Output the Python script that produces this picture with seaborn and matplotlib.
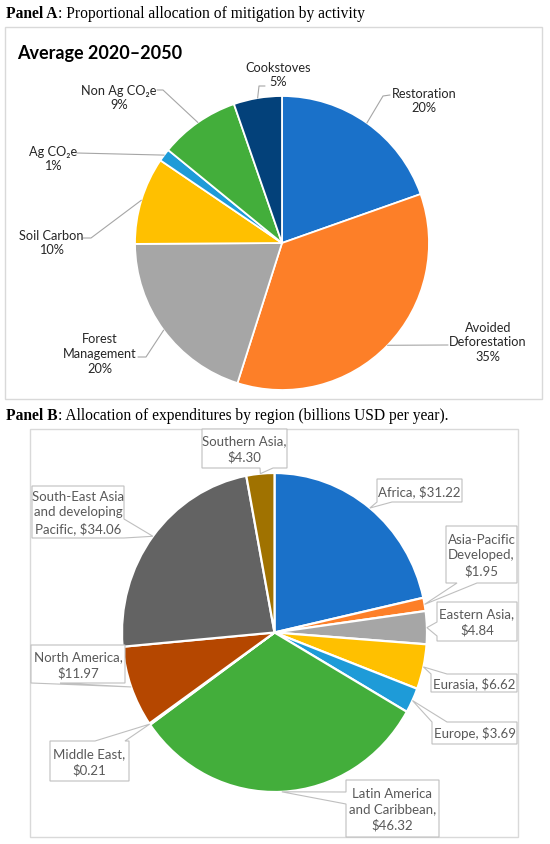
import matplotlib
matplotlib.use("Agg")
import numpy as np
import matplotlib.pyplot as plt
import seaborn as sns
from matplotlib.patches import Rectangle, Polygon

# ---------------- data ----------------
activities = ["Restoration", "Avoided\nDeforestation", "Forest\nManagement", "Soil Carbon",
              "Ag CO\u2082e", "Non Ag CO\u2082e", "Cookstoves"]
activity_share = [19.6, 35.3, 20.0, 9.6, 1.4, 8.8, 5.3]
activity_colors = ["#1A71C9", "#FD7F28", "#A6A6A6", "#FFC000", "#1E9BD8", "#43AE3B", "#03417A"]

regions = ["Africa", "Asia-Pacific\nDeveloped", "Eastern Asia", "Eurasia", "Europe",
           "Latin America\nand Caribbean", "Middle East", "North America",
           "South-East Asia\nand developing\nPacific", "Southern Asia"]
region_spend = [31.22, 1.95, 4.84, 6.62, 3.69, 46.32, 0.21, 11.97, 34.06, 4.30]
value_new_line = [False, True, True, False, False, True, True, True, False, True]
region_colors = ["#1A71C9", "#FD7F28", "#A6A6A6", "#FFC000", "#1E9BD8", "#43AE3B",
                 "#03417A", "#B54700", "#636363", "#A07200"]

panel_a_caption = ("Panel A", ": Proportional allocation of mitigation by activity")
panel_b_caption = ("Panel B", ": Allocation of expenditures by region (billions USD per year).")
chart_title = "Average 2020\u20132050"

# ---------------- style ----------------
sns.set_theme(style="white")
plt.rcParams['font.family'] = ['Lato', 'DejaVu Sans']

W, H = 550, 845
fig = plt.figure(figsize=(W / 100, H / 100), dpi=100)
fig.patch.set_facecolor("white")


def pie_axes(cx, cy, rx, ry, pad=1.03):
    ax = fig.add_axes([(cx - rx * pad) / W, (H - cy - ry * pad) / H,
                       2 * rx * pad / W, 2 * ry * pad / H])
    return ax


# Panel A pie
A_cx, A_cy, A_r = 282, 244, 147
axA = pie_axes(A_cx, A_cy, A_r, A_r)
wedgesA, _ = axA.pie(activity_share, colors=activity_colors, startangle=90, counterclock=False,
                     wedgeprops=dict(edgecolor="white", linewidth=1.3))
axA.set_aspect("auto")
axA.set_xlim(-1.03, 1.03)
axA.set_ylim(-1.03, 1.03)
axA.axis("off")

# Panel B pie (slightly stretched vertically, like the source)
B_cx, B_cy, B_rx, B_ry = 274.5, 633.5, 152.5, 159.5
axB = pie_axes(B_cx, B_cy, B_rx, B_ry)
wedgesB, _ = axB.pie(region_spend, colors=region_colors, startangle=90, counterclock=False,
                     wedgeprops=dict(edgecolor="white", linewidth=1.6))
axB.set_aspect("auto")
axB.set_xlim(-1.03, 1.03)
axB.set_ylim(-1.03, 1.03)
axB.axis("off")

# overlay in pixel coordinates (y down)
ov = fig.add_axes([0, 0, 1, 1], zorder=5)
ov.set_xlim(0, W)
ov.set_ylim(H, 0)
ov.axis("off")
ov.patch.set_alpha(0)


def mid_point(w, cx, cy, rx, ry):
    ang = np.deg2rad((w.theta1 + w.theta2) / 2)
    return cx + rx * np.cos(ang), cy - ry * np.sin(ang)


# frames
ov.add_patch(Rectangle((5, 28), 537, 372, fill=False, edgecolor="#D9D9D9", lw=1.0))
ov.add_patch(Rectangle((30, 430), 488, 408, fill=False, edgecolor="#D9D9D9", lw=1.0))

# captions
renderer = fig.canvas.get_renderer()
serif = ["Liberation Serif", "DejaVu Serif"]


def caption(y, parts):
    t = ov.text(6, y, parts[0], family=serif, weight="bold", fontsize=11.2, va="baseline",
                color="black")
    bb = t.get_window_extent(renderer)
    ov.text(bb.x1, y, parts[1], family=serif, fontsize=11.2, va="baseline", color="black")


caption(17.5, panel_a_caption)
caption(420, panel_b_caption)

ov.text(17, 53, chart_title, fontsize=13, weight="bold", va="center", ha="left", color="black")

# Panel A labels
a_label_pos = [(424, 101), (488, 342.5), (100, 354), (51, 243), (53, 159), (119, 98), (278, 75)]
a_elbows = [[(390, 96), (383, 97)], [(448, 346)], [(138, 358), (146, 358)],
            [(83, 239), (91, 239)], [(77, 154)], [(157, 91), (163, 91)], [(265, 87), (259, 87)]]
for name, val, w, pos, elb in zip(activities, activity_share, wedgesA, a_label_pos, a_elbows):
    ov.text(pos[0], pos[1], f"{name}\n{val:.0f}%", ha="center", va="center", fontsize=9.2,
            color="#262626", linespacing=1.28)
    tip = mid_point(w, A_cx, A_cy, A_r, A_r)
    pts = elb + [tip]
    ov.plot([p[0] for p in pts], [p[1] for p in pts], color="#A6A6A6", lw=0.8)

# Panel B callouts: box (x0, y0, x1, y1), pointer edge, base interval
b_boxes = [
    ((377, 480, 462, 503), "bottom", (377, 392)),
    ((446, 527, 517, 584), "bottom", (457, 477)),
    ((437, 603, 517, 642), "left", (623, 637)),
    ((431, 675, 517, 693), "top", (431, 447)),
    ((432, 723, 517, 745), "top", (432, 447)),
    ((346, 781, 439, 838), "left", (793, 805)),
    ((50, 742, 129, 782), "top", (95, 125)),
    ((31, 646, 125, 684), "bottom", (31, 60)),
    ((32, 487, 124, 539), "right", (520, 539)),
    ((202, 430, 287, 469), "bottom", (260, 273)),
]


def callout(box, edge, base, tip):
    x0, y0, x1, y1 = box
    a, b = base
    pts = [(x0, y0)]
    if edge == "top":
        pts += [(a, y0), tip, (b, y0)]
    pts.append((x1, y0))
    if edge == "right":
        pts += [(x1, a), tip, (x1, b)]
    pts.append((x1, y1))
    if edge == "bottom":
        pts += [(b, y1), tip, (a, y1)]
    pts.append((x0, y1))
    if edge == "left":
        pts += [(x0, b), tip, (x0, a)]
    ov.add_patch(Polygon(pts, closed=True, facecolor="white", edgecolor="#BFBFBF", lw=0.8))


for name, val, nl, w, (box, edge, base) in zip(regions, region_spend, value_new_line, wedgesB, b_boxes):
    tip = mid_point(w, B_cx, B_cy, B_rx, B_ry)
    callout(box, edge, base, tip)
    sep = ",\n" if nl else ", "
    label = f"{name}{sep}\\${val:.2f}"
    ov.text((box[0] + box[2]) / 2, (box[1] + box[3]) / 2, label, ha="center", va="center",
            fontsize=9.5, color="#595959", linespacing=1.35)

fig.savefig("out.png", dpi=100, facecolor="white")
